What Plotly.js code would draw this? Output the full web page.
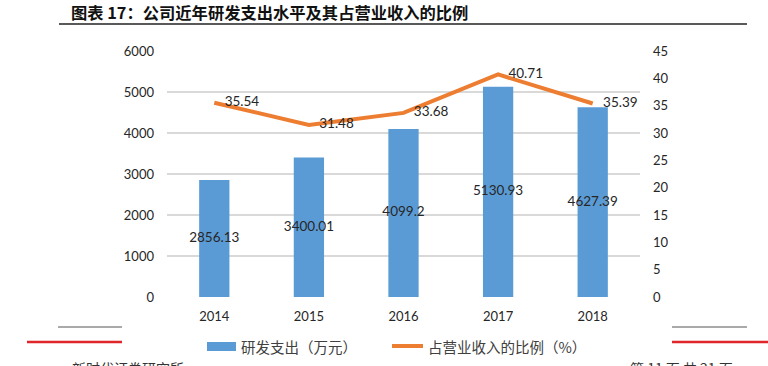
<!DOCTYPE html>
<html><head><meta charset="utf-8">
<script src="https://cdn.plot.ly/plotly-3.0.1.min.js"></script>
<style>body{margin:0;background:#fff}#c{width:768px;height:366px}</style>
</head><body><div id="c"></div>
<script>
const years = ['2014','2015','2016','2017','2018'];
const rdSpend = [2856.13, 3400.01, 4099.2, 5130.93, 4627.39];
const rdRatio = [35.54, 31.48, 33.68, 40.71, 35.39];
const leftTicks = [0,1000,2000,3000,4000,5000,6000];
const rightTicks = [0,5,10,15,20,25,30,35,40,45];
const seriesNames = ['研发支出（万元）', '占营业收入的比例（%）'];

const L=167, R=640, T=51, B=297, W=768, H=366;
const px = x => (x-L)/(R-L);
const py = y => (B-y)/(B-T);
const font = 'Lato, "Noto Sans CJK SC", sans-serif';
const cjk = '"Noto Sans CJK SC", sans-serif';

const traces = [
 {type:'bar', x:years, y:rdSpend, name:seriesNames[0], marker:{color:'#5B9BD5'}, width:0.32,
  textposition:'none', hoverinfo:'none', showlegend:false},
 {type:'scatter', mode:'text', x:years, y:rdSpend.map(v=>v/2), text:rdSpend.map(String), textposition:'middle center',
  textfont:{color:'#262626', size:13.5, family:font}, hoverinfo:'none', showlegend:false, cliponaxis:false},
 {type:'scatter', mode:'lines+text', x:years, y:rdRatio, yaxis:'y2', name:seriesNames[1],
  line:{color:'#ED7D31', width:4}, text:rdRatio.map(v=>'   '+v.toFixed(2)), textposition:'middle right',
  textfont:{color:'#262626', size:13.5, family:font}, cliponaxis:false, hoverinfo:'none', showlegend:false}
];

const layout = {
 width:W, height:H, margin:{l:L, r:W-R, t:T, b:H-B, autoexpand:false}, paper_bgcolor:'#fff', plot_bgcolor:'#fff',
 font:{family:font, color:'#404040', size:13},
 showlegend:false,
 xaxis:{type:'category', showgrid:false, zeroline:false, showline:false, ticks:'', ticklabelstandoff:10, tickfont:{size:13, color:'#262626'}},
 yaxis:{range:[0,6000], tickvals:leftTicks, ticktext:leftTicks.map(String), showgrid:true, gridcolor:'#D9D9D9', gridwidth:1.2, zeroline:false, showline:false, ticks:'', ticklabelstandoff:12, tickfont:{size:13, color:'#262626'}},
 yaxis2:{overlaying:'y', side:'right', range:[0,45], tickvals:rightTicks, showgrid:false, zeroline:false, showline:false, ticks:'', ticklabelstandoff:12, tickfont:{size:13, color:'#262626'}},
 shapes:[
  {type:'line', xref:'paper', yref:'paper', x0:px(59), x1:px(747), y0:py(24), y1:py(24), line:{color:'#222', width:1.5}},
  {type:'line', xref:'paper', yref:'paper', x0:px(58), x1:px(122), y0:py(327), y1:py(327), line:{color:'#555', width:1}},
  {type:'line', xref:'paper', yref:'paper', x0:px(27), x1:px(122), y0:py(342), y1:py(342), line:{color:'#E0262B', width:2.5}},
  {type:'line', xref:'paper', yref:'paper', x0:px(672), x1:px(747), y0:py(327), y1:py(327), line:{color:'#555', width:1}},
  {type:'line', xref:'paper', yref:'paper', x0:px(672), x1:px(768), y0:py(342), y1:py(342), line:{color:'#E0262B', width:2.5}},
  {type:'rect', xref:'paper', yref:'paper', x0:px(207), x1:px(236), y0:py(342), y1:py(351), fillcolor:'#5B9BD5', line:{width:0}},
  {type:'line', xref:'paper', yref:'paper', x0:px(392), x1:px(423), y0:py(346), y1:py(346), line:{color:'#ED7D31', width:4}}
 ],
 annotations:[
  {xref:'paper', yref:'paper', x:px(69), y:py(12), xanchor:'left', yanchor:'middle', showarrow:false,
   text:'<b>图表 17：公司近年研发支出水平及其占营业收入的比例</b>', font:{family:cjk, size:16.3, color:'#111'}},
  {xref:'paper', yref:'paper', x:px(239), y:py(346), xanchor:'left', yanchor:'middle', showarrow:false,
   text:seriesNames[0], font:{family:cjk, size:14.5, color:'#404040'}},
  {xref:'paper', yref:'paper', x:px(426), y:py(346), xanchor:'left', yanchor:'middle', showarrow:false,
   text:seriesNames[1], font:{family:cjk, size:14.5, color:'#404040'}},
  {xref:'paper', yref:'paper', x:px(70), y:py(368), xanchor:'left', yanchor:'middle', showarrow:false,
   text:'新时代证券研究所', font:{family:cjk, size:14, color:'#333'}},
  {xref:'paper', yref:'paper', x:px(735), y:py(368), xanchor:'right', yanchor:'middle', showarrow:false,
   text:'第 11 页 共 21 页', font:{family:cjk, size:14, color:'#333'}}
 ]
};
Plotly.newPlot('c', traces, layout, {staticPlot:true});
</script></body></html>
